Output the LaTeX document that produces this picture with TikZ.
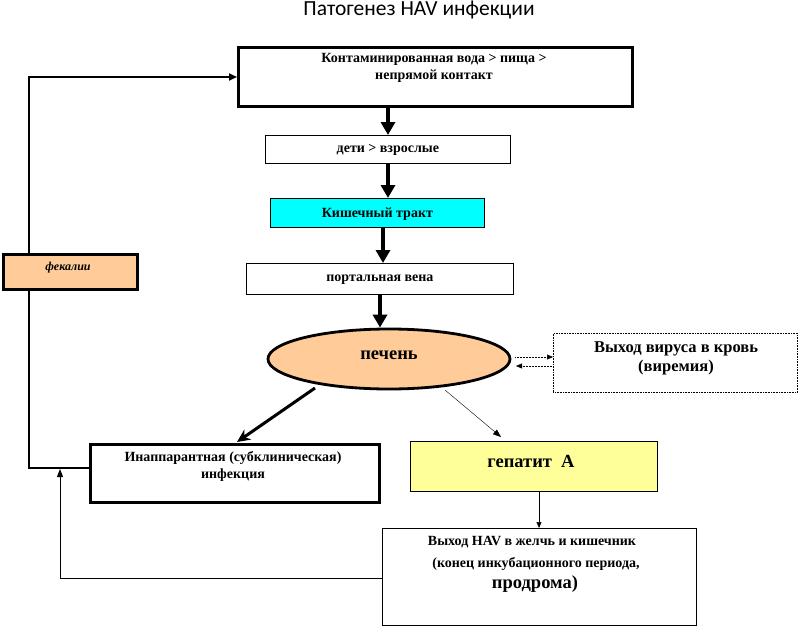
\documentclass[tikz,border=0pt]{standalone}
\usepackage{fontspec}
\setmainfont{Liberation Serif}
\newfontfamily\titlefont{Carlito}
\usetikzlibrary{arrows.meta,shapes.geometric}
\definecolor{peach}{RGB}{255,204,153}
\definecolor{aqua}{RGB}{0,255,255}
\definecolor{lightyel}{RGB}{255,255,153}
\begin{document}
\begin{tikzpicture}[x=1pt,y=-1pt,
  box/.style={draw,line width=0.8pt,inner sep=0pt,anchor=north west},
  thickbox/.style={draw,line width=2.6pt,inner sep=0pt,anchor=north west},
  txt/.style={font=\fontsize{14}{17}\selectfont\bfseries,inner sep=0pt,align=center},
  bigtxt/.style={font=\fontsize{18.5}{20}\selectfont\bfseries,inner sep=0pt,align=center},
  bigarrow/.style={line width=4pt,-{Triangle[width=14pt,length=13pt]}},
  thinarrow/.style={line width=0.6pt,-{Triangle[width=5pt,length=6pt]}},
  dotarrow/.style={line width=0.5pt,densely dotted,-{Triangle[width=5pt,length=6pt]}}]
\useasboundingbox (0,0) rectangle (798,626);
% title
\node[font=\titlefont\fontsize{21.5}{24}\selectfont,inner sep=0pt] (title) at (419,10) {Патогенез HAV инфекции};
% boxes
\node[thickbox,minimum width=394pt,minimum height=59pt] (b1) at (237,46) {};
\node[txt] (t1) at (434,68) {Контаминированная вода > пища >\\непрямой контакт};
\node[box,minimum width=245pt,minimum height=28pt] (b2) at (265,135) {};
\node[txt] (t2) at ([yshift=-1pt]b2.center) {дети > взрослые};
\node[box,fill=aqua,minimum width=214pt,minimum height=29pt] (b3) at (270,198) {};
\node[txt] (t3) at ([yshift=-1pt]b3.center) {Кишечный тракт};
\node[box,minimum width=267pt,minimum height=31pt] (b4) at (246,263) {};
\node[txt] (t4) at ([yshift=-1pt]b4.center) {портальная вена};
\node[ellipse,draw,line width=2.8pt,fill=peach,minimum width=242pt,minimum height=60pt,inner sep=0pt] (liv) at (389,359) {};
\node[bigtxt] (tl) at (389,355) {печень};
\node[draw,densely dotted,line width=0.6pt,anchor=north west,minimum width=244pt,minimum height=59pt,inner sep=0pt] (vir) at (553,333) {};
\node[txt,font=\fontsize{16.5}{19}\selectfont\bfseries] (tv) at (676,358) {Выход вируса в кровь\\(виремия)};
\node[thickbox,minimum width=289pt,minimum height=58pt] (ina) at (89,443) {};
\node[txt] (ti) at (233,466) {Инаппарантная (субклиническая)\\инфекция};
\node[box,fill=lightyel,minimum width=247pt,minimum height=50pt] (hep) at (410,441) {};
\node[bigtxt] (th) at (531,461) {гепатит\ \ А};
\node[box,minimum width=314pt,minimum height=97pt] (out) at (382,528) {};
\node[txt] (to1) at (532,542) {Выход HAV в желчь и кишечник};
\node[txt] (to2) at (536,564) {(конец инкубационного периода,};
\node[bigtxt] (to3) at (535,584) {продрома)};
% connectors
\draw[bigarrow] (b1.south -| 388,0) -- (b2.north -| 388,0);
\draw[bigarrow] (b2.south -| 388,0) -- (b3.north -| 388,0);
\draw[bigarrow] (b3.south -| 383,0) -- (b4.north -| 383,0);
\draw[bigarrow] (b4.south -| 380,0) -- (liv.north -| 380,0);
\draw[dotarrow] (515,357) -- (vir.west |- 0,357);
\draw[dotarrow] (vir.west |- 0,366) -- (516,366);
\draw[line width=3pt,-{Stealth[width=12pt,length=13pt]}] (315,388) -- (237,442);
\draw[line width=0.4pt,-{Triangle[width=6pt,length=8pt]}] (445,390) -- (501,437);
\draw[thinarrow] (hep.south -| 539,0) -- (out.north -| 539,0);
\draw[line width=1.8pt,-{Triangle[width=7pt,length=8pt]}] (ina.west |- 0,468) -- (29,468) -- (29,77) -- (b1.west |- 0,77);
\coordinate (ret) at (60,469);
\draw[line width=1pt,-{Triangle[width=6pt,length=8pt]}] (out.west |- 0,578) -- (60,578) -- (ret);
% fecal box on top of line
\node[thickbox,fill=peach,minimum width=134pt,minimum height=35pt] (fec) at (2,253) {};
\node[txt,font=\fontsize{12}{14}\selectfont\bfseries\itshape] (tf) at (68,268) {фекалии};
\end{tikzpicture}
\end{document}
